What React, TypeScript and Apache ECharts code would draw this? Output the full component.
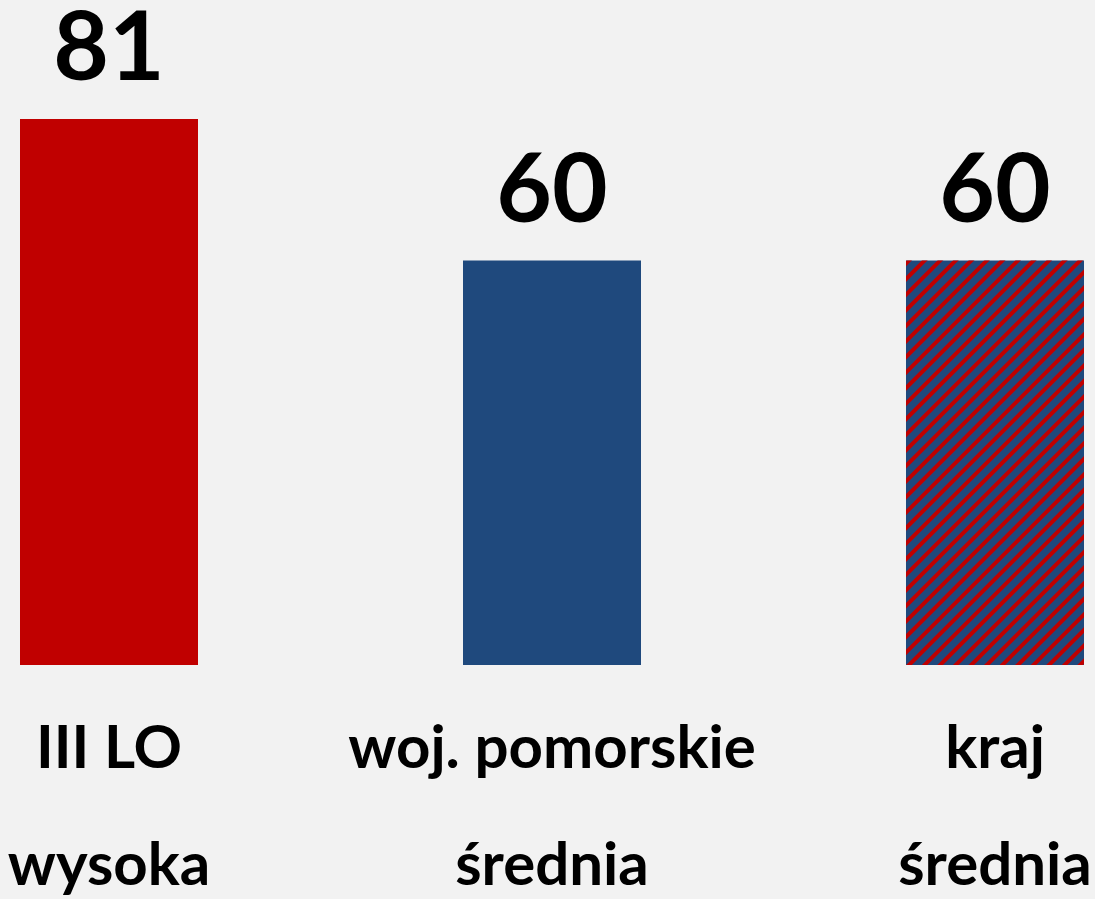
import React, { useEffect, useRef } from "react";
import * as echarts from "echarts";

const categories = ["III LO", "woj. pomorskie", "kraj"];
const levels = ["wysoka", "średnia", "średnia"];
const values = [81, 60, 60];

const RED = "#c00000";
const BLUE = "#1f497d";

export default function App() {
  const ref = useRef<HTMLDivElement>(null);
  useEffect(() => {
    if (!ref.current) return;
    const chart = echarts.init(ref.current, undefined, { renderer: "svg" });
    const itemStyles = [
      { color: RED },
      { color: BLUE },
      {
        color: BLUE,
        decal: {
          symbol: "rect",
          color: RED,
          dashArrayX: [1, 0],
          dashArrayY: [3.3, 6.3],
          rotation: -Math.PI / 4,
          symbolSize: 1,
        },
      },
    ];
    const labelFont = {
      fontSize: 60,
      fontWeight: "bold",
      fontFamily: "Lato",
      color: "#000",
    };
    chart.setOption({
      animation: false,
      backgroundColor: "#f2f2f2",
      textStyle: { fontFamily: "Lato" },
      grid: {
        left: 109,
        width: 886,
        top: 0,
        height: 665,
        containLabel: false,
        outerBoundsMode: "none",
      },
      xAxis: {
        type: "category",
        boundaryGap: false,
        data: categories,
        axisLine: { show: false },
        axisTick: { show: false },
        splitLine: { show: false },
        axisLabel: {
          interval: 0,
          margin: -7,
          ...labelFont,
          formatter: (v: string, i: number) => "{a|" + v + "}\n{b|" + levels[i] + "}",
          rich: {
            a: { ...labelFont, lineHeight: 174 },
            b: { ...labelFont, lineHeight: 60 },
          },
        },
      },
      yAxis: {
        type: "value",
        min: 0,
        max: 98.65,
        show: false,
        splitLine: { show: false },
      },
      series: [
        {
          type: "bar",
          barWidth: 178,
          data: values.map((v, i) => ({ value: v, itemStyle: itemStyles[i] })),
          label: {
            show: true,
            position: "top",
            distance: 36,
            fontSize: 96,
            lineHeight: 80,
            fontWeight: "bold",
            fontFamily: "Lato",
            color: "#000",
          },
        },
      ],
    });
    return () => chart.dispose();
  }, []);
  return (
    <div
      ref={ref}
      style={{ position: "fixed", left: 0, top: 0, width: 1095, height: 899 }}
    />
  );
}
